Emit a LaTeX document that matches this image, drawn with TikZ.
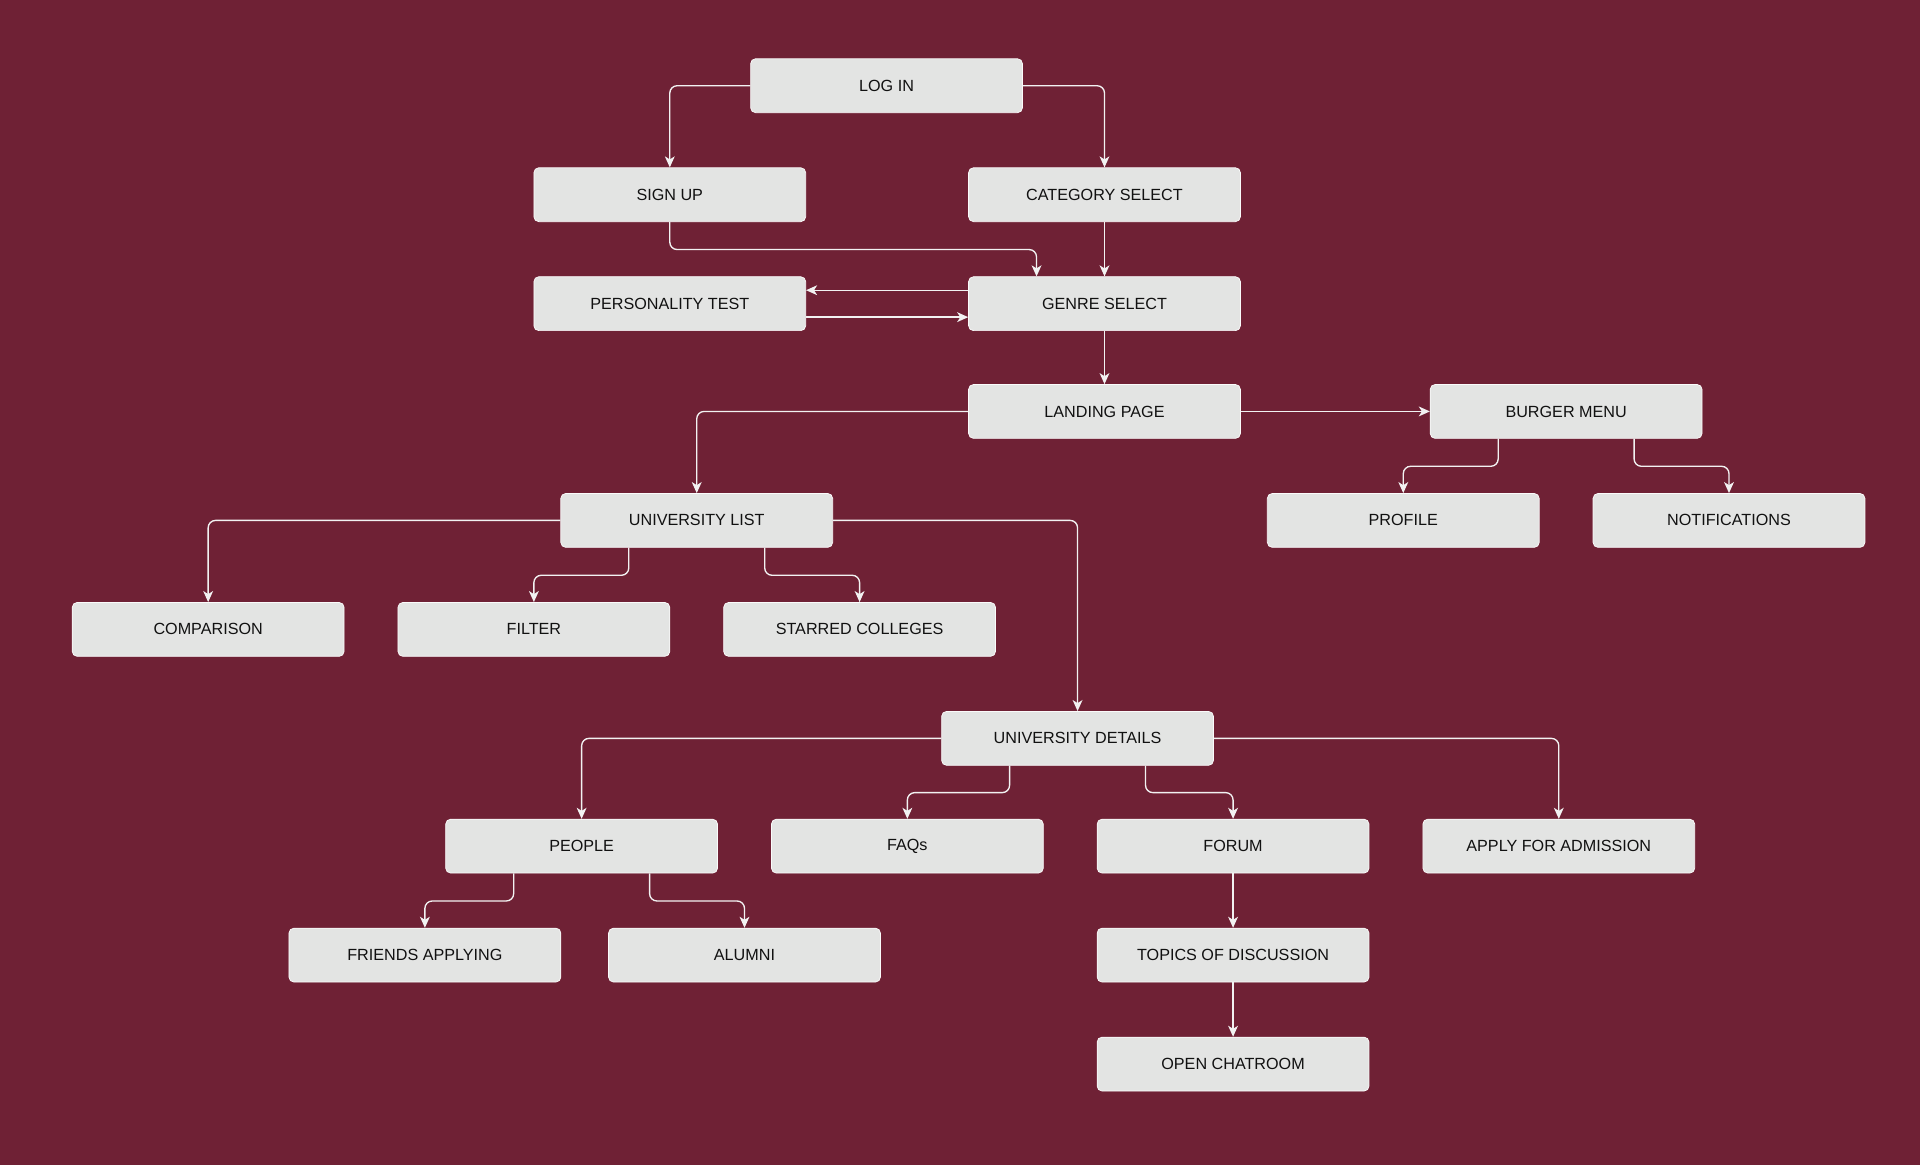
\documentclass[tikz,border=0pt]{standalone}
\usepackage{fontspec}
\setmainfont{Liberation Sans}
\usetikzlibrary{arrows.meta,calc}
\definecolor{bgmaroon}{HTML}{6F2135}
\definecolor{boxgray}{HTML}{E3E4E3}
\definecolor{boxtext}{HTML}{111111}
\definecolor{linecol}{HTML}{F2F2F2}
\tikzset{
  flowbox/.style={rectangle, rounded corners=4pt, fill=boxgray, draw=white!85!boxgray, line width=0.6pt,
    minimum width=222pt, minimum height=44pt, inner sep=0pt, text=boxtext,
    font=\fontsize{13.2}{15}\selectfont},
  conn/.style={draw=linecol, line width=1.1pt, rounded corners=6pt,
    -{Stealth[length=9pt,width=8pt,inset=2.5pt]}}
}
\begin{document}
\begin{tikzpicture}[x=1pt,y=-1pt]
\fill[bgmaroon] (0,0) rectangle (1568,951.4);
\useasboundingbox (0,0) rectangle (1568,951.4);

\node[flowbox] (login) at (724,70) {LOG IN};
\node[flowbox] (signup) at (547,159) {SIGN UP};
\node[flowbox] (category) at (902,159) {CATEGORY SELECT};
\node[flowbox] (personality) at (547,248) {PERSONALITY TEST};
\node[flowbox] (genre) at (902,248) {GENRE SELECT};
\node[flowbox] (landing) at (902,336) {LANDING PAGE};
\node[flowbox] (burger) at (1279,336) {BURGER MENU};
\node[flowbox] (profile) at (1146,425) {PROFILE};
\node[flowbox] (notif) at (1412,425) {NOTIFICATIONS};
\node[flowbox] (ulist) at (569,425) {UNIVERSITY LIST};
\node[flowbox] (compare) at (170,514) {COMPARISON};
\node[flowbox] (filter) at (436,514) {FILTER};
\node[flowbox] (starred) at (702,514) {STARRED COLLEGES};
\node[flowbox] (udetails) at (880,603) {UNIVERSITY DETAILS};
\node[flowbox] (people) at (475,691) {PEOPLE};
\node[flowbox] (faqs) at (741,691) {FAQs};
\node[flowbox] (forum) at (1007,691) {FORUM};
\node[flowbox] (apply) at (1273,691) {APPLY FOR ADMISSION};
\node[flowbox] (friends) at (347,780) {FRIENDS APPLYING};
\node[flowbox] (alumni) at (608,780) {ALUMNI};
\node[flowbox] (topics) at (1007,780) {TOPICS OF DISCUSSION};
\node[flowbox] (chat) at (1007,869) {OPEN CHATROOM};

% connectors
\draw[conn] (login.west) -| (signup.north);
\draw[conn] (login.east) -| (category.north);
\draw[conn] (signup.south) -- ++(0,22.5) -| ([xshift=-55.5pt]genre.north);
\draw[conn] (category.south) -- (genre.north);
\draw[conn] ([yshift=11pt]genre.west) -- ([yshift=11pt]personality.east);
\draw[conn] ([yshift=-11pt]personality.east) -- ([yshift=-11pt]genre.west);
\draw[conn] (genre.south) -- (landing.north);
\draw[conn] (landing.east) -- (burger.west);
\draw[conn] (landing.west) -| (ulist.north);
\draw[conn] ([xshift=-55.5pt]burger.south) -- ++(0,22.5) -| (profile.north);
\draw[conn] ([xshift=55.5pt]burger.south) -- ++(0,22.5) -| (notif.north);
\draw[conn] (ulist.west) -| (compare.north);
\draw[conn] ([xshift=-55.5pt]ulist.south) -- ++(0,22.5) -| (filter.north);
\draw[conn] ([xshift=55.5pt]ulist.south) -- ++(0,22.5) -| (starred.north);
\draw[conn] (ulist.east) -| (udetails.north);
\draw[conn] (udetails.west) -| (people.north);
\draw[conn] ([xshift=-55.5pt]udetails.south) -- ++(0,22) -| (faqs.north);
\draw[conn] ([xshift=55.5pt]udetails.south) -- ++(0,22) -| (forum.north);
\draw[conn] (udetails.east) -| (apply.north);
\draw[conn] ([xshift=-55.5pt]people.south) -- ++(0,22.5) -| (friends.north);
\draw[conn] ([xshift=55.5pt]people.south) -- ++(0,22.5) -| (alumni.north);
\draw[conn] (forum.south) -- (topics.north);
\draw[conn] (topics.south) -- (chat.north);
\end{tikzpicture}
\end{document}
